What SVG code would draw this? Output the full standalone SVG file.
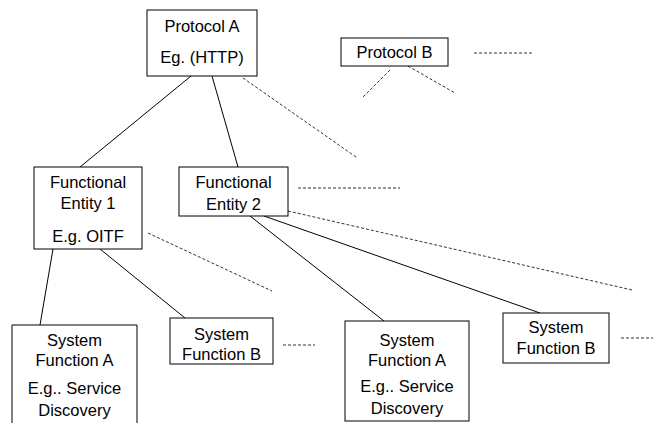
<svg xmlns="http://www.w3.org/2000/svg" width="653" height="423" viewBox="0 0 653 423">
<style>
.box{fill:#fff;stroke:#000;stroke-width:1}
.t{font-family:"Liberation Sans",Arial,sans-serif;font-size:16.5px;fill:#000;text-anchor:middle}
.s{stroke:#000;stroke-width:1;fill:none}
.d{stroke:#333;stroke-width:1;fill:none;stroke-dasharray:3 2}
</style>
<rect width="653" height="423" fill="#fff"/>
<g id="connectors">
<line class="s" x1="191" y1="76" x2="80" y2="167"/>
<line class="s" x1="212" y1="76" x2="238" y2="167"/>
<line class="d" x1="243" y1="78" x2="356" y2="157"/>
<line class="d" x1="390" y1="70" x2="362" y2="98"/>
<line class="d" x1="408" y1="66" x2="455" y2="93"/>
<line class="d" x1="474" y1="53" x2="533" y2="53"/>
<line class="s" x1="53" y1="249" x2="40" y2="325"/>
<line class="s" x1="100" y1="249" x2="185" y2="318"/>
<line class="d" x1="148" y1="233" x2="272" y2="291"/>
<line class="d" x1="298" y1="188" x2="400" y2="188"/>
<line class="d" x1="288" y1="211" x2="632" y2="290"/>
<line class="s" x1="250" y1="216" x2="384" y2="321"/>
<line class="s" x1="264" y1="216" x2="540" y2="313"/>
<line class="d" x1="283" y1="345" x2="315" y2="345"/>
<line class="d" x1="621" y1="338" x2="653" y2="338"/>
</g>
<g id="protocolA">
<rect class="box" x="147" y="10" width="110" height="66"/>
<text class="t" x="202" y="32">Protocol A</text>
<text class="t" x="202" y="63">Eg. (HTTP)</text>
</g>
<g id="protocolB">
<rect class="box" x="341" y="38" width="107" height="28"/>
<text class="t" x="394.5" y="58">Protocol B</text>
</g>
<g id="fe1">
<rect class="box" x="34" y="167" width="108" height="82"/>
<text class="t" x="88" y="188">Functional</text>
<text class="t" x="88" y="209">Entity 1</text>
<text class="t" x="88" y="242">E.g. OITF</text>
</g>
<g id="fe2">
<rect class="box" x="179" y="167" width="109" height="49"/>
<text class="t" x="233.5" y="188">Functional</text>
<text class="t" x="233.5" y="210">Entity 2</text>
</g>
<g id="sfa1">
<path class="s" d="M12,424 V325 H137 V424" fill="#fff"/>
<text class="t" x="74.5" y="346">System</text>
<text class="t" x="74.5" y="366">Function A</text>
<text class="t" x="74.5" y="394">E.g.. Service</text>
<text class="t" x="74.5" y="416">Discovery</text>
</g>
<g id="sfb1">
<rect class="box" x="170" y="318" width="103" height="46"/>
<text class="t" x="221.5" y="340">System</text>
<text class="t" x="221.5" y="360">Function B</text>
</g>
<g id="sfa2">
<rect class="box" x="345" y="321" width="124" height="100"/>
<text class="t" x="407" y="346">System</text>
<text class="t" x="407" y="366">Function A</text>
<text class="t" x="407" y="392">E.g.. Service</text>
<text class="t" x="407" y="414">Discovery</text>
</g>
<g id="sfb2">
<rect class="box" x="503" y="313" width="106" height="50"/>
<text class="t" x="556" y="333">System</text>
<text class="t" x="556" y="354">Function B</text>
</g>
</svg>
